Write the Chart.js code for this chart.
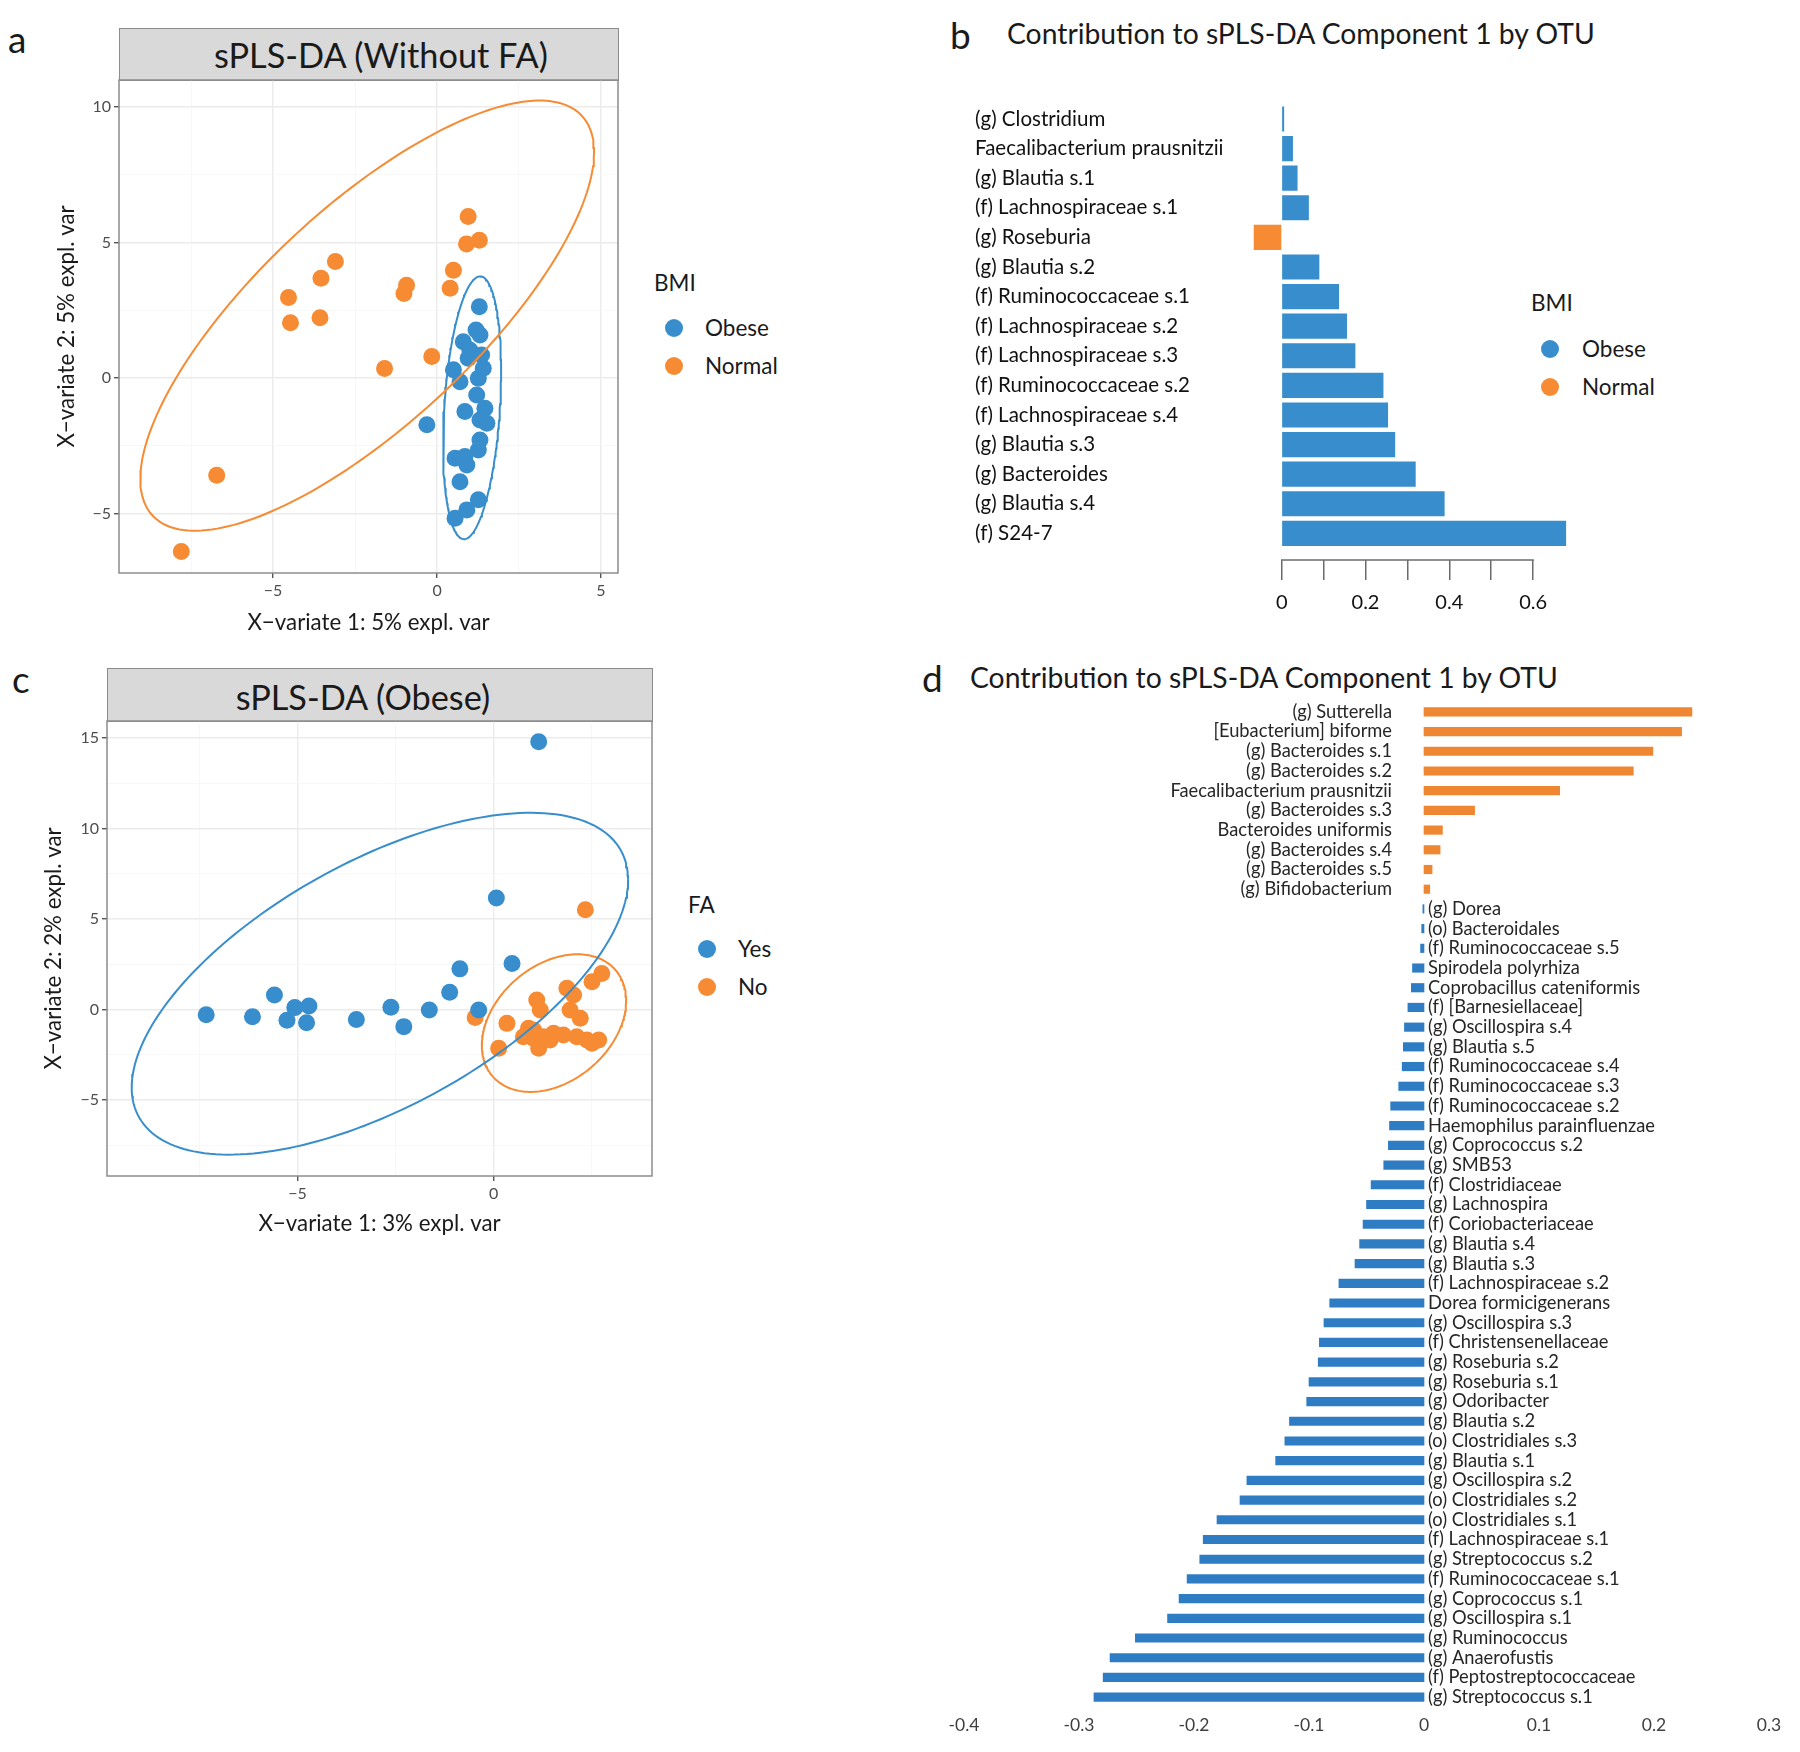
<!DOCTYPE html>
<html><head><meta charset="utf-8">
<script src="https://cdn.jsdelivr.net/npm/chart.js@4.4.1/dist/chart.umd.min.js"></script>
<style>
html,body{margin:0;padding:0;background:#fff;}
#root{position:relative;width:1800px;height:1752px;overflow:hidden;font-family:Lato,sans-serif;color:#1a1a1a;}
canvas{position:absolute;}
.t{position:absolute;white-space:nowrap;line-height:1;}
.strip{position:absolute;background:#D9D9D9;border:1.5px solid #8C8C8C;box-sizing:border-box;}
.dot{position:absolute;width:18px;height:18px;border-radius:50%;}
.lg{font-size:22.5px;}
</style></head><body><div id="root">
<div class="t" style="left:8px;top:20px;font-size:37px;">a</div>
<div class="t" style="left:950px;top:16px;font-size:37px;">b</div>
<div class="t" style="left:12px;top:660px;font-size:37px;">c</div>
<div class="t" style="left:922px;top:659px;font-size:37px;">d</div>

<div class="strip" style="left:119px;top:28px;width:500px;height:53px;"></div>
<div class="t" style="left:131px;top:38px;width:500px;text-align:center;font-size:34.3px;">sPLS-DA (Without FA)</div>
<div class="strip" style="left:107px;top:668px;width:546px;height:54px;"></div>
<div class="t" style="left:113px;top:680px;width:500px;text-align:center;font-size:34.3px;">sPLS-DA (Obese)</div>

<div class="t" style="left:1007px;top:19px;font-size:28.3px;">Contribution to sPLS-DA Component 1 by OTU</div>
<div class="t" style="left:970px;top:663px;font-size:28.3px;">Contribution to sPLS-DA Component 1 by OTU</div>

<!-- legends -->
<div class="t lg" style="left:654px;top:272px;">BMI</div>
<div class="dot" style="left:665px;top:319px;background:#388ECC;"></div>
<div class="t lg" style="left:705px;top:317px;">Obese</div>
<div class="dot" style="left:665px;top:357px;background:#F68B33;"></div>
<div class="t lg" style="left:705px;top:355px;">Normal</div>

<div class="t lg" style="left:1531px;top:292px;">BMI</div>
<div class="dot" style="left:1541px;top:340px;background:#388ECC;"></div>
<div class="t lg" style="left:1582px;top:338px;">Obese</div>
<div class="dot" style="left:1541px;top:378px;background:#F68B33;"></div>
<div class="t lg" style="left:1582px;top:376px;">Normal</div>

<div class="t lg" style="left:688px;top:894px;">FA</div>
<div class="dot" style="left:698px;top:940px;background:#388ECC;"></div>
<div class="t lg" style="left:738px;top:938px;">Yes</div>
<div class="dot" style="left:698px;top:978px;background:#F68B33;"></div>
<div class="t lg" style="left:738px;top:976px;">No</div>

<canvas id="ca" width="900" height="650" style="left:0;top:0;"></canvas>
<canvas id="cc" width="900" height="620" style="left:0;top:640px;"></canvas>
<canvas id="cb" width="900" height="580" style="left:900px;top:60px;"></canvas>
<canvas id="cd" width="900" height="1062" style="left:900px;top:690px;"></canvas>
</div>
<script>
// ---------- Panel a data ----------
const A_OBESE_X = [1.29,1.19,1.31,0.80,1.00,1.36,0.95,0.50,1.41,0.70,1.26,1.21,0.85,1.46,1.31,1.52,1.31,1.26,-0.31,0.55,0.85,0.91,0.70,1.26,0.91,0.55];
const A_OBESE_Y = [2.63,1.77,1.59,1.34,1.03,0.85,0.73,0.30,0.36,-0.14,-0.01,-0.63,-1.24,-1.12,-1.55,-1.67,-2.29,-2.66,-1.73,-2.96,-2.90,-3.21,-3.83,-4.50,-4.87,-5.18];
const A_NORMAL_X = [0.95,0.90,1.29,-3.10,-3.54,-4.53,-4.47,-3.57,-0.93,-1.01,0.50,0.40,-0.16,-1.60,-6.72,-7.80];
const A_NORMAL_Y = [5.96,4.95,5.08,4.30,3.68,2.97,2.04,2.22,3.42,3.12,3.98,3.31,0.79,0.35,-3.59,-6.41];
// ellipse: [centre x, centre y, x half-range, y half-range, phase]
const A_ELL_NORMAL = [-2.13, 2.30, 6.92, 7.94, 0.708];
const A_ELL_OBESE = [1.07, -1.10, 0.885, 4.85, 1.29];
const A_X_MAJOR = [-5, 0, 5];
const A_X_MINOR = [-7.5, -2.5, 2.5];
const A_Y_MAJOR = [-5, 0, 5, 10];
const A_Y_MINOR = [-2.5, 2.5, 7.5];

// ---------- Panel c data ----------
const C_YES_X = [1.15,0.07,0.47,-0.86,-1.12,-0.38,-1.64,-2.62,-2.29,-3.50,-4.71,-5.07,-5.59,-5.27,-4.77,-6.15,-7.33];
const C_YES_Y = [14.8,6.16,2.55,2.25,0.96,-0.02,-0.02,0.13,-0.94,-0.55,0.20,0.11,0.81,-0.59,-0.72,-0.39,-0.28];
const C_NO_X = [2.34,2.76,2.51,1.87,2.04,1.10,1.19,1.95,2.21,0.34,-0.47,0.89,0.76,1.02,1.27,1.53,1.78,2.12,2.38,2.68,1.15,0.13,1.44,1.02,2.51];
const C_NO_Y = [5.52,2.00,1.54,1.18,0.81,0.53,-0.02,-0.02,-0.48,-0.76,-0.44,-1.03,-1.50,-1.59,-1.50,-1.31,-1.40,-1.50,-1.68,-1.68,-2.14,-2.14,-1.68,-1.13,-1.86];
const C_ELL_YES = [-2.90, 1.43, 6.33, 9.44, 0.918];
const C_ELL_NO = [1.54, -0.745, 1.84, 3.80, 1.24];
const C_X_MAJOR = [-5, 0];
const C_X_MINOR = [-7.5, -2.5, 2.5];
const C_Y_MAJOR = [-5, 0, 5, 10, 15];
const C_Y_MINOR = [-7.5, -2.5, 2.5, 7.5, 12.5];

// ---------- Panel b data ----------
const B_LABELS = ['(g) Clostridium','Faecalibacterium prausnitzii','(g) Blautia s.1','(f) Lachnospiraceae s.1','(g) Roseburia','(g) Blautia s.2','(f) Ruminococcaceae s.1','(f) Lachnospiraceae s.2','(f) Lachnospiraceae s.3','(f) Ruminococcaceae s.2','(f) Lachnospiraceae s.4','(g) Blautia s.3','(g) Bacteroides','(g) Blautia s.4','(f) S24-7'];
const B_VALUES = [0.005,0.026,0.037,0.064,-0.066,0.089,0.136,0.155,0.175,0.242,0.253,0.270,0.319,0.388,0.678];
const B_GROUP = ['Obese','Obese','Obese','Obese','Normal','Obese','Obese','Obese','Obese','Obese','Obese','Obese','Obese','Obese','Obese'];
const B_TICKS = [0,0.1,0.2,0.3,0.4,0.5,0.6];
const B_TICK_LABELS = ['0','','0.2','','0.4','','0.6'];

// ---------- Panel d data ----------
const D_LABELS = ['(g) Sutterella','[Eubacterium] biforme','(g) Bacteroides s.1','(g) Bacteroides s.2','Faecalibacterium prausnitzii','(g) Bacteroides s.3','Bacteroides uniformis','(g) Bacteroides s.4','(g) Bacteroides s.5','(g) Bifidobacterium',
 '(g) Dorea','(o) Bacteroidales','(f) Ruminococcaceae s.5','Spirodela polyrhiza','Coprobacillus cateniformis','(f) [Barnesiellaceae]','(g) Oscillospira s.4','(g) Blautia s.5','(f) Ruminococcaceae s.4','(f) Ruminococcaceae s.3',
 '(f) Ruminococcaceae s.2','Haemophilus parainfluenzae','(g) Coprococcus s.2','(g) SMB53','(f) Clostridiaceae','(g) Lachnospira','(f) Coriobacteriaceae','(g) Blautia s.4','(g) Blautia s.3','(f) Lachnospiraceae s.2',
 'Dorea formicigenerans','(g) Oscillospira s.3','(f) Christensenellaceae','(g) Roseburia s.2','(g) Roseburia s.1','(g) Odoribacter','(g) Blautia s.2','(o) Clostridiales s.3','(g) Blautia s.1','(g) Oscillospira s.2',
 '(o) Clostridiales s.2','(o) Clostridiales s.1','(f) Lachnospiraceae s.1','(g) Streptococcus s.2','(f) Ruminococcaceae s.1','(g) Coprococcus s.1','(g) Oscillospira s.1','(g) Ruminococcus','(g) Anaerofustis','(f) Peptostreptococcaceae','(g) Streptococcus s.1'];
const D_VALUES = [0.233,0.224,0.199,0.182,0.118,0.044,0.016,0.014,0.007,0.005,
 -0.001,-0.002,-0.003,-0.010,-0.011,-0.014,-0.017,-0.018,-0.019,-0.022,
 -0.029,-0.030,-0.031,-0.035,-0.046,-0.050,-0.053,-0.056,-0.060,-0.074,
 -0.082,-0.087,-0.091,-0.092,-0.100,-0.102,-0.117,-0.121,-0.129,-0.154,
 -0.160,-0.180,-0.192,-0.195,-0.206,-0.213,-0.223,-0.251,-0.273,-0.279,-0.287];
const D_TICKS = [-0.4,-0.3,-0.2,-0.1,0,0.1,0.2,0.3];
const D_TICK_LABELS = ['-0.4','-0.3','-0.2','-0.1','0','0.1','0.2','0.3'];

// ---------- styling ----------
const BLUE = '#388ECC', ORANGE = '#F68B33';
const D_BLUE = '#2E7DC4', D_ORANGE = '#EF8632';
Chart.defaults.font.family = 'Lato, sans-serif';
Chart.defaults.color = '#1a1a1a';

function pts(xs, ys){ return xs.map((x,i)=>({x:x, y:ys[i]})); }
function ellipse(e){
  const out = [];
  for (let k=0;k<=200;k++){ const t = 2*Math.PI*k/200; out.push({x:e[0]+e[2]*Math.cos(t), y:e[1]+e[3]*Math.cos(t-e[4])}); }
  return out;
}
function minus(v){ return String(v).replace('-', '\u2212'); }
function gridOpts(major){
  const isM = c => c.tick && major.includes(c.tick.value);
  return { color: c => isM(c) ? '#EBEBEB' : '#F5F5F5', lineWidth: c => isM(c) ? 1.4 : 0.8,
    tickColor: c => isM(c) ? '#555' : 'rgba(0,0,0,0)', tickLength:5, drawTicks:true };
}
const borderPlugin = { id:'panelBorder', afterDraw(ch){ const a=ch.chartArea, c=ch.ctx; c.save(); c.strokeStyle='#8C8C8C'; c.lineWidth=1.5; c.strokeRect(a.left, a.top, a.right-a.left, a.bottom-a.top); c.restore(); } };

function scatterChart(id, cfg){
  return new Chart(document.getElementById(id), {
    type:'scatter',
    data:{datasets:[
      {data: ellipse(cfg.ell1), showLine:true, borderColor:cfg.ell1c, borderWidth:2, pointRadius:0, pointHitRadius:0, fill:false},
      {data: ellipse(cfg.ell2), showLine:true, borderColor:cfg.ell2c, borderWidth:2, pointRadius:0, pointHitRadius:0, fill:false},
      {data: cfg.p1, backgroundColor:cfg.p1c, borderColor:cfg.p1c, borderWidth:0, pointRadius:8.5},
      {data: cfg.p2, backgroundColor:cfg.p2c, borderColor:cfg.p2c, borderWidth:0, pointRadius:8.5}
    ]},
    options:{ responsive:false, animation:false, events:[],
      layout:{padding:cfg.pad},
      plugins:{legend:{display:false}, tooltip:{enabled:false}},
      scales:{
        x:{type:'linear', min:cfg.xmin, max:cfg.xmax,
           afterFit:s=>{s.height=cfg.xh;},
           afterBuildTicks:s=>{s.ticks=cfg.xMajor.concat(cfg.xMinor).sort((a,b)=>a-b).map(v=>({value:v}));},
           grid:gridOpts(cfg.xMajor), border:{display:false},
           ticks:{callback:v=>cfg.xMajor.includes(v)?minus(v):'', color:'#4D4D4D', font:{size:16}, padding:3, maxRotation:0, autoSkip:false},
           title:{display:true, text:cfg.xt, font:{size:22.3}, color:'#1a1a1a', padding:{top:0,bottom:cfg.xtp}}},
        y:{type:'linear', min:cfg.ymin, max:cfg.ymax,
           afterFit:s=>{s.width=cfg.yw;},
           afterBuildTicks:s=>{s.ticks=cfg.yMajor.concat(cfg.yMinor).sort((a,b)=>a-b).map(v=>({value:v}));},
           grid:gridOpts(cfg.yMajor), border:{display:false},
           ticks:{callback:v=>cfg.yMajor.includes(v)?minus(v):'', color:'#4D4D4D', font:{size:16}, padding:3, autoSkip:false},
           title:{display:true, text:cfg.yt, font:{size:22.3}, color:'#1a1a1a', padding:{top:cfg.ytp,bottom:0}}}
      }
    },
    plugins:[borderPlugin]
  });
}

scatterChart('ca', {
  ell1:A_ELL_NORMAL, ell1c:ORANGE, ell2:A_ELL_OBESE, ell2c:BLUE,
  p1:pts(A_OBESE_X,A_OBESE_Y), p1c:BLUE, p2:pts(A_NORMAL_X,A_NORMAL_Y), p2c:ORANGE,
  pad:{left:0, top:80, right:282, bottom:0},
  xmin:-9.7, xmax:5.52, ymin:-7.2, ymax:11.0, xh:77, yw:119,
  xMajor:A_X_MAJOR, xMinor:A_X_MINOR, yMajor:A_Y_MAJOR, yMinor:A_Y_MINOR,
  xt:'X\u2212variate 1: 5% expl. var', yt:'X\u2212variate 2: 5% expl. var', xtp:14, ytp:53
});

scatterChart('cc', {
  ell1:C_ELL_YES, ell1c:BLUE, ell2:C_ELL_NO, ell2c:ORANGE,
  p1:pts(C_YES_X,C_YES_Y), p1c:BLUE, p2:pts(C_NO_X,C_NO_Y), p2c:ORANGE,
  pad:{left:0, top:81, right:248, bottom:0},
  xmin:-9.86, xmax:4.04, ymin:-9.19, ymax:15.94, xh:84, yw:107,
  xMajor:C_X_MAJOR, xMinor:C_X_MINOR, yMajor:C_Y_MAJOR, yMinor:C_Y_MINOR,
  xt:'X\u2212variate 1: 3% expl. var', yt:'X\u2212variate 2: 2% expl. var', xtp:23, ytp:40
});

// ---------- Panel b ----------
const bAxisLine = { id:'bAxisLine', afterDraw(ch){ const x=ch.scales.x, c=ch.ctx; c.save(); c.strokeStyle='#6b6b6b'; c.lineWidth=1.5; c.beginPath();
  c.moveTo(x.getPixelForValue(B_TICKS[0])-0.75, x.top); c.lineTo(x.getPixelForValue(B_TICKS[B_TICKS.length-1])+0.75, x.top); c.stroke(); c.restore(); } };
new Chart(document.getElementById('cb'), {
  type:'bar',
  data:{datasets:[{data:B_VALUES.map((v,i)=>({x:v, y:i})), backgroundColor:B_GROUP.map(g=>g==='Obese'?BLUE:ORANGE), borderWidth:0, barThickness:24.5}]},
  options:{ indexAxis:'y', responsive:false, animation:false, events:[],
    layout:{padding:{left:75, top:44.2, right:225, bottom:0}},
    plugins:{legend:{display:false}, tooltip:{enabled:false}},
    scales:{
      x:{type:'linear', min:-0.08, max:0.70, position:'bottom',
         afterFit:s=>{s.height=80;},
         afterBuildTicks:s=>{s.ticks=B_TICKS.map(v=>({value:v}));},
         grid:{display:true, drawOnChartArea:false, drawTicks:true, tickLength:20, color:'#6b6b6b', lineWidth:1.5},
         border:{display:false},
         ticks:{callback:(v,i)=>B_TICK_LABELS[i], font:{size:20}, color:'#111', padding:11, maxRotation:0, autoSkip:false}},
      y:{type:'linear', reverse:true, min:-0.5, max:14.9, offset:false,
         afterFit:s=>{s.width=273.2;},
         afterBuildTicks:s=>{s.ticks=B_LABELS.map((_,i)=>({value:i}));},
         grid:{display:false, offset:false}, border:{display:false},
         ticks:{callback:v=>B_LABELS[v], crossAlign:'far', font:{size:20.5}, color:'#111', autoSkip:false}}
    }
  },
  plugins:[bAxisLine]
});

// ---------- Panel d ----------
const dLabels = { id:'dLabels', afterDatasetsDraw(ch){
  const x=ch.scales.x, y=ch.scales.y, c=ch.ctx, x0=x.getPixelForValue(0);
  c.save(); c.font='18.3px Lato, sans-serif'; c.fillStyle='#262626'; c.textBaseline='middle';
  D_LABELS.forEach((lab,i)=>{ const py=y.getPixelForValue(i);
    if (D_VALUES[i] >= 0){ c.textAlign='right'; c.fillText(lab, x0-32, py); }
    else { c.textAlign='left'; c.fillText(lab, x0+4, py); } });
  c.restore(); } };
new Chart(document.getElementById('cd'), {
  type:'bar',
  data:{labels:D_LABELS, datasets:[{data:D_VALUES, backgroundColor:D_VALUES.map(v=>v>=0?D_ORANGE:D_BLUE), borderWidth:0, barThickness:8.5}]},
  options:{ indexAxis:'y', responsive:false, animation:false, events:[],
    layout:{padding:{left:64, top:12, right:31, bottom:0}},
    plugins:{legend:{display:false}, tooltip:{enabled:false}},
    scales:{
      x:{type:'linear', min:-0.4, max:0.3,
         afterFit:s=>{s.height=45;},
         afterBuildTicks:s=>{s.ticks=D_TICKS.map(v=>({value:v}));},
         grid:{display:false, drawTicks:false}, border:{display:false},
         ticks:{callback:(v,i)=>D_TICK_LABELS[i], font:{size:17.5}, color:'#404040', padding:8, maxRotation:0, autoSkip:false}},
      y:{type:'category', display:false}
    }
  },
  plugins:[dLabels]
});
</script>
</body></html>
